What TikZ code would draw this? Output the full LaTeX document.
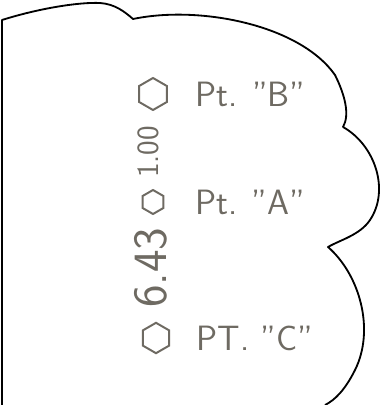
\documentclass[tikz,border=0pt]{standalone}
\usepackage{tikz}
\usetikzlibrary{shapes.geometric, positioning}
\definecolor{pencil}{HTML}{6E6A62}
\tikzset{
  outline/.style = {draw = black, line width = 1.3pt, line join = round},
  hexnode/.style = {draw = pencil, line width = 1.4pt, regular polygon,
                    regular polygon sides = 6, shape border rotate = 30,
                    inner sep = 0pt},
  ptlabel/.style = {text = pencil, font = \sffamily\fontsize{25}{28}\selectfont,
                    inner sep = 0pt, anchor = west},
  dimtext/.style = {text = pencil, font = \sffamily, rotate = 90, inner sep = 0pt}
}
\begin{document}
\begin{tikzpicture}[x=0.25mm, y=-0.25mm]
\useasboundingbox (0,0) rectangle (383,405);
% cloud outline
\draw[outline] (2,405) -- (2,20)
  .. controls (40,8) and (80,2) .. (100,3)
  .. controls (115,4) and (125,12) .. (133,19)
  .. controls (200,5) and (300,25) .. (335,75)
  .. controls (345,95) and (350,115) .. (343,127)
  .. controls (375,145) and (390,190) .. (370,220)
  .. controls (360,235) and (340,240) .. (328,247)
  .. controls (360,275) and (375,330) .. (355,370)
  .. controls (345,390) and (335,400) .. (325,405);

% points
\node[hexnode, minimum size=8mm] (hexB) at (153,94) {};
\node[hexnode, minimum size=6mm] (hexA) at (153,202) {};
\node[hexnode, minimum size=7.6mm] (hexC) at (156,338) {};

\node[ptlabel, right=6.8mm of hexB] (ptB) {Pt. "B"};
\node[ptlabel, right=7.6mm of hexA] (ptA) {Pt. "A"};
\node[ptlabel, right=6.6mm of hexC] (ptC) {PT. "C"};

% dimensions
\node[dimtext, font=\sffamily\fontsize{22}{24}\selectfont] (dimBA) at (148,152) {1.00};
\node[dimtext, font=\sffamily\fontsize{34}{36}\selectfont] (dimAC) at (151,268) {6.43};
\end{tikzpicture}
\end{document}
